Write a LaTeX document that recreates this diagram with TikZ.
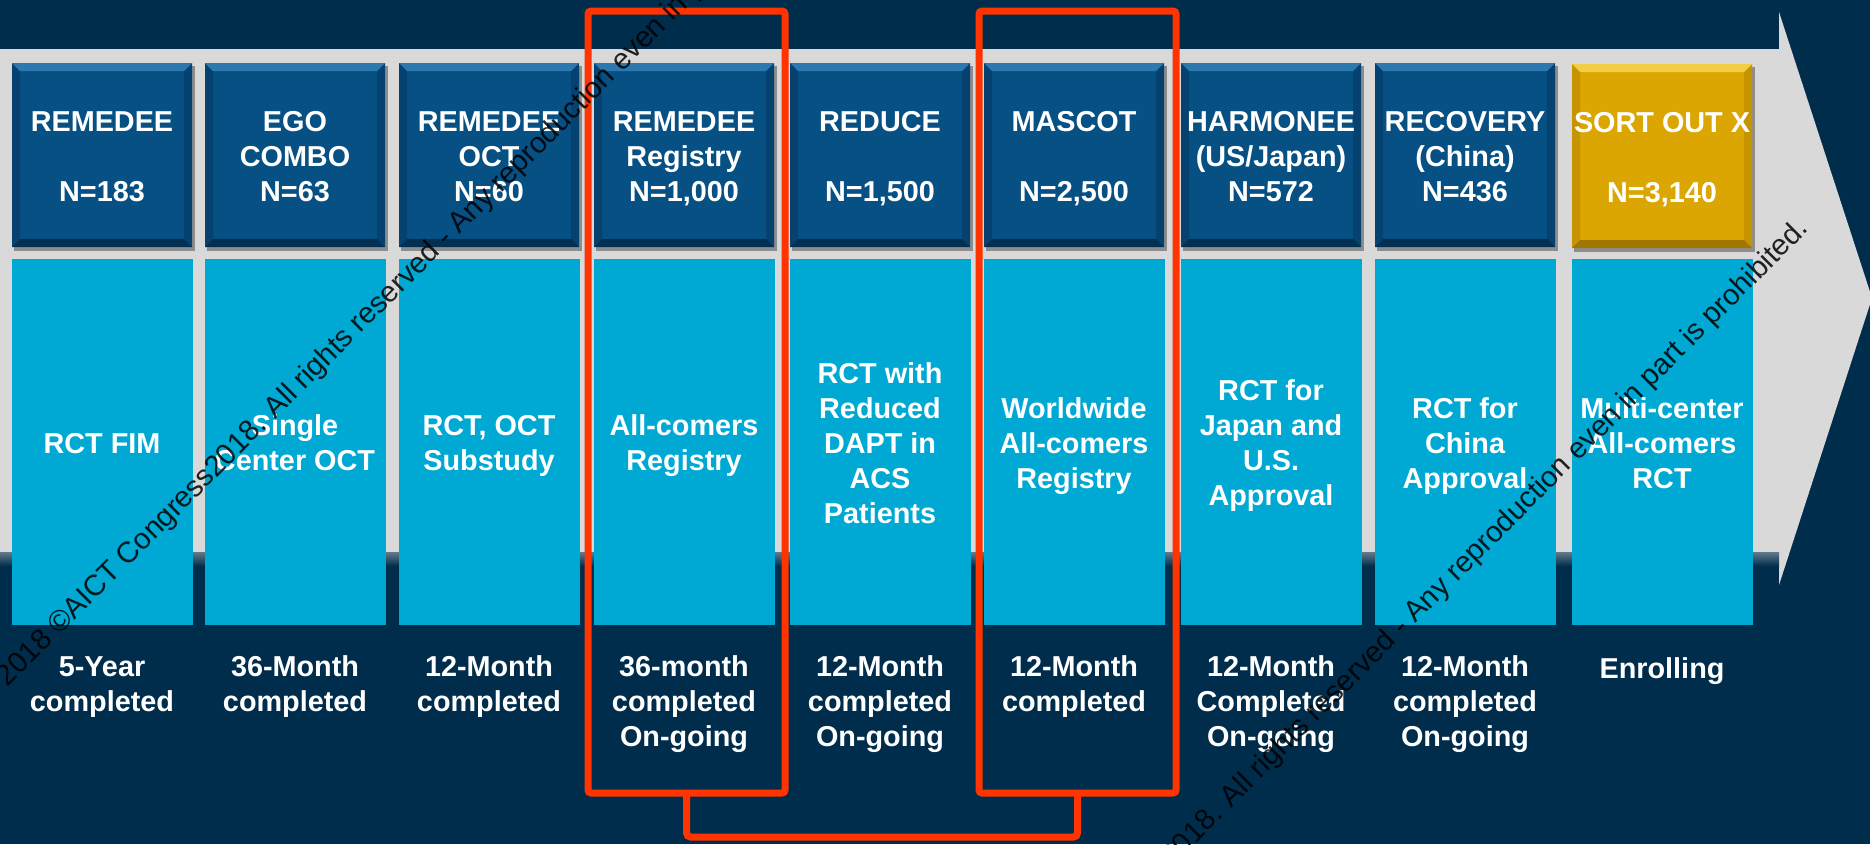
\documentclass[tikz,border=0pt]{standalone}
\usepackage{fontspec}
\setmainfont{Liberation Sans}
\usetikzlibrary{calc}

\definecolor{navy}{RGB}{1,45,76}
\definecolor{bandgray}{RGB}{217,217,217}
\definecolor{cyanbox}{RGB}{0,169,211}
\definecolor{hdrbody}{RGB}{7,80,131}
\definecolor{hdrlight}{RGB}{45,120,175}
\definecolor{hdrdark}{RGB}{3,48,82}
\definecolor{hdrside}{RGB}{5,66,112}
\definecolor{goldbody}{RGB}{219,165,2}
\definecolor{goldlight}{RGB}{242,205,70}
\definecolor{golddark}{RGB}{160,118,0}
\definecolor{goldside}{RGB}{198,148,0}
\definecolor{markred}{RGB}{255,52,0}

% bevelled header tile: #1 left, #2 top, #3 colour prefix (180 x 184)
\newcommand\bevelbox[3]{%
  \fill[black,opacity=.35] (#1+2,#2+3) rectangle (#1+183,#2+188);
  \fill[#3body] (#1,#2) rectangle (#1+180,#2+184);
  \fill[#3side] (#1,#2) -- (#1+8,#2+8) -- (#1+8,#2+176) -- (#1,#2+184) -- cycle;
  \fill[#3side] (#1+180,#2) -- (#1+172,#2+8) -- (#1+172,#2+176) -- (#1+180,#2+184) -- cycle;
  \fill[#3light] (#1,#2) -- (#1+180,#2) -- (#1+172,#2+8) -- (#1+8,#2+8) -- cycle;
  \fill[#3dark] (#1,#2+184) -- (#1+180,#2+184) -- (#1+172,#2+176) -- (#1+8,#2+176) -- cycle;
}

\tikzset{
  txt/.style={text=white, font=\fontsize{28.8}{35}\selectfont\bfseries,
    align=center, inner sep=0pt},
  cbox/.style={fill=cyanbox, minimum width=181, minimum height=366,
    inner sep=0pt, outer sep=0pt},
  redbox/.style={draw=markred, line width=7pt, rounded corners=3pt,
    inner sep=0pt, outer sep=0pt, minimum width=197, minimum height=782},
  redline/.style={draw=markred, line width=7pt, rounded corners=4pt},
  wmark/.style={text=black, opacity=.85, font=\fontsize{29.3}{35}\selectfont,
    inner sep=0pt, rotate=45, anchor=west},
}

\begin{document}
\begin{tikzpicture}[x=1pt,y=-1pt]
\useasboundingbox (0,0) rectangle (1870,844);
\clip (0,0) rectangle (1870,844);

% background and timeline arrow
\fill[navy] (0,0) rectangle (1870,844);
\fill[bandgray] (0,49) -- (1779,49) -- (1779,12) -- (1872,298)
  -- (1779,585) -- (1779,552) -- (0,552) -- cycle;
\shade[top color=navy!55!bandgray, bottom color=navy] (0,552) rectangle (1779,566);

% header tiles
\bevelbox{12}{63}{hdr}
\bevelbox{205}{63}{hdr}
\bevelbox{399}{63}{hdr}
\bevelbox{594}{63}{hdr}
\bevelbox{790}{63}{hdr}
\bevelbox{984}{63}{hdr}
\bevelbox{1181}{63}{hdr}
\bevelbox{1375}{63}{hdr}
\bevelbox{1572}{64}{gold}

% study design panels
\node[cbox] (m1) at (102.5,442) {};
\node[cbox] (m2) at (295.5,442) {};
\node[cbox] (m3) at (489.5,442) {};
\node[cbox] (m4) at (684.5,442) {};
\node[cbox] (m5) at (880.5,442) {};
\node[cbox] (m6) at (1074.5,442) {};
\node[cbox] (m7) at (1271.5,442) {};
\node[cbox] (m8) at (1465.5,442) {};
\node[cbox] (m9) at (1662.5,442) {};

% header labels
\node[txt] (h1) at (102,159) {\strut REMEDEE\\\strut\\\strut N=183};
\node[txt] (h2) at (295,159) {\strut EGO\\\strut COMBO\\\strut N=63};
\node[txt] (h3) at (489,159) {\strut REMEDEE\\\strut OCT\\\strut N=60};
\node[txt] (h4) at (684,159) {\strut REMEDEE\\\strut Registry\\\strut N=1,000};
\node[txt] (h5) at (880,159) {\strut REDUCE\\\strut\\\strut N=1,500};
\node[txt] (h6) at (1074,159) {\strut MASCOT\\\strut\\\strut N=2,500};
\node[txt] (h7) at (1271,159) {\strut HARMONEE\\\strut (US/Japan)\\\strut N=572};
\node[txt] (h8) at (1465,159) {\strut RECOVERY\\\strut (China)\\\strut N=436};
\node[txt] (h9) at (1662,160) {\strut SORT OUT X\\\strut\\\strut N=3,140};

% design labels
\node[txt] (d1) at (102,446) {\strut RCT FIM};
\node[txt] (d2) at (295,446) {\strut Single\\\strut Center OCT};
\node[txt] (d3) at (489,446) {\strut RCT, OCT\\\strut Substudy};
\node[txt] (d4) at (684,446) {\strut All-comers\\\strut Registry};
\node[txt] (d5) at (880,446) {\strut RCT with\\\strut Reduced\\\strut DAPT in\\\strut ACS\\\strut Patients};
\node[txt] (d6) at (1074,446) {\strut Worldwide\\\strut All-comers\\\strut Registry};
\node[txt] (d7) at (1271,446) {\strut RCT for\\\strut Japan and\\\strut U.S.\\\strut Approval};
\node[txt] (d8) at (1465,446) {\strut RCT for\\\strut China\\\strut Approval};
\node[txt] (d9) at (1662,446) {\strut Multi-center\\\strut All-comers\\\strut RCT};

% status labels
\node[txt, anchor=north] (s1) at (102,652) {\strut 5-Year\\\strut completed};
\node[txt, anchor=north] (s2) at (295,652) {\strut 36-Month\\\strut completed};
\node[txt, anchor=north] (s3) at (489,652) {\strut 12-Month\\\strut completed};
\node[txt, anchor=north] (s4) at (684,652) {\strut 36-month\\\strut completed\\\strut On-going};
\node[txt, anchor=north] (s5) at (880,652) {\strut 12-Month\\\strut completed\\\strut On-going};
\node[txt, anchor=north] (s6) at (1074,652) {\strut 12-Month\\\strut completed};
\node[txt, anchor=north] (s7) at (1271,652) {\strut 12-Month\\\strut Completed\\\strut On-going};
\node[txt, anchor=north] (s8) at (1465,652) {\strut 12-Month\\\strut completed\\\strut On-going};
\node[txt, anchor=north] (s9) at (1662,654) {\strut Enrolling};

% highlighted registries joined by a bracket
\node[redbox] (r1) at (686.5,402) {};
\node[redbox] (r2) at (1077.5,402) {};
\draw[redline] (r1.south) -- ++(0,44) -| (r2.south);

% copyright overprint
\node[wmark] (w1) at (2,682) {2018 ©AICT Congress2018. All rights reserved - Any reproduction even in part is prohibited.};
\node[wmark] (w2) at (958,1071) {2018 ©AICT Congress2018. All rights reserved - Any reproduction even in part is prohibited.};
\end{tikzpicture}
\end{document}
